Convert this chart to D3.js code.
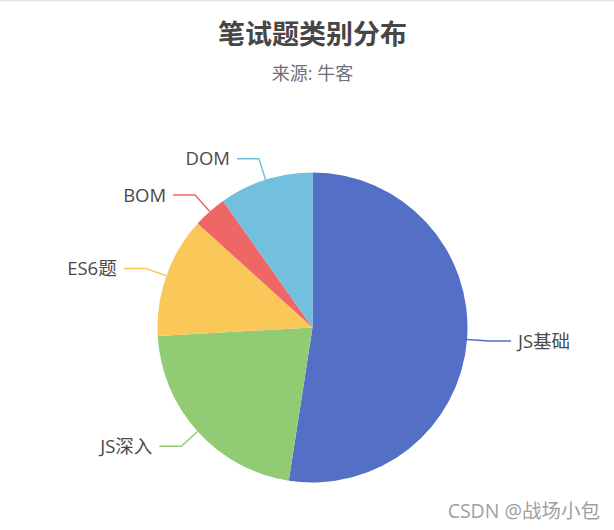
<!DOCTYPE html>
<html><head><meta charset="utf-8">
<script src="https://cdn.jsdelivr.net/npm/d3@7/dist/d3.min.js"></script>
<style>
html,body{margin:0;padding:0;background:#fff;}
svg{display:block;font-family:"Open Sans","Noto Sans CJK SC","Noto Sans",sans-serif;}
</style></head>
<body>
<svg id="chart" width="614" height="530"></svg>
<script>
const categories = ["JS基础", "JS深入", "ES6题", "BOM", "DOM"];
const values = [75, 31, 18, 5, 14];
const colors = ["#5470c6", "#91cc75", "#fac858", "#ee6666", "#73c0de"];
const titleText = "笔试题类别分布";
const subtitleText = "来源: 牛客";
const watermarkText = "CSDN @战场小包";

const W = 614, H = 530;
const cx = 312.5, cy = 327.5, R = 155;
const len1 = 22, len2 = 22, gap = 7;

const svg = d3.select("#chart");
svg.append("rect").attr("x",0).attr("y",0).attr("width",W).attr("height",1.5).attr("fill","#e6e6ea");

svg.append("text").attr("x", cx).attr("y", 44).attr("text-anchor","middle")
  .attr("font-size", 27).attr("font-weight","bold").attr("fill","#464646")
  .style("font-family","'Noto Sans CJK SC',sans-serif").text(titleText);
svg.append("text").attr("x", cx).attr("y", 80).attr("text-anchor","middle")
  .attr("font-size", 18).attr("fill","#6e7079").text(subtitleText);

const data = categories.map((c,i)=>({name:c, value:values[i], color:colors[i]}));
const pie = d3.pie().value(d=>d.value).sort(null);
const arcs = pie(data);
const arc = d3.arc().innerRadius(0).outerRadius(R);

const g = svg.append("g").attr("transform", `translate(${cx},${cy})`);
g.selectAll("path.slice").data(arcs).enter().append("path")
  .attr("class","slice").attr("d", arc).attr("fill", d=>d.data.color);

arcs.forEach(a=>{
  const m = (a.startAngle + a.endAngle)/2;
  const sx = Math.sin(m), sy = -Math.cos(m);
  const p0 = [R*sx, R*sy];
  const p1 = [(R+len1)*sx, (R+len1)*sy];
  const dir = sx >= 0 ? 1 : -1;
  const p2 = [p1[0] + dir*len2, p1[1]];
  g.append("polyline").attr("points", [p0,p1,p2].map(p=>p.join(",")).join(" "))
    .attr("fill","none").attr("stroke", a.data.color).attr("stroke-width",1.5);
  g.append("text").attr("x", p2[0] + dir*gap).attr("y", p2[1])
    .attr("dy","0.35em").attr("text-anchor", dir>0 ? "start":"end")
    .attr("font-size",18.5).attr("fill","#4a4a4a").text(a.data.name);
});

svg.append("text").attr("x", 600).attr("y", 518).attr("text-anchor","end")
  .attr("font-size",19.5).attr("fill","#a0a0a0")
  .attr("style","paint-order:stroke;stroke:#fff;stroke-width:2px")
  .text(watermarkText);
</script>
</body></html>
